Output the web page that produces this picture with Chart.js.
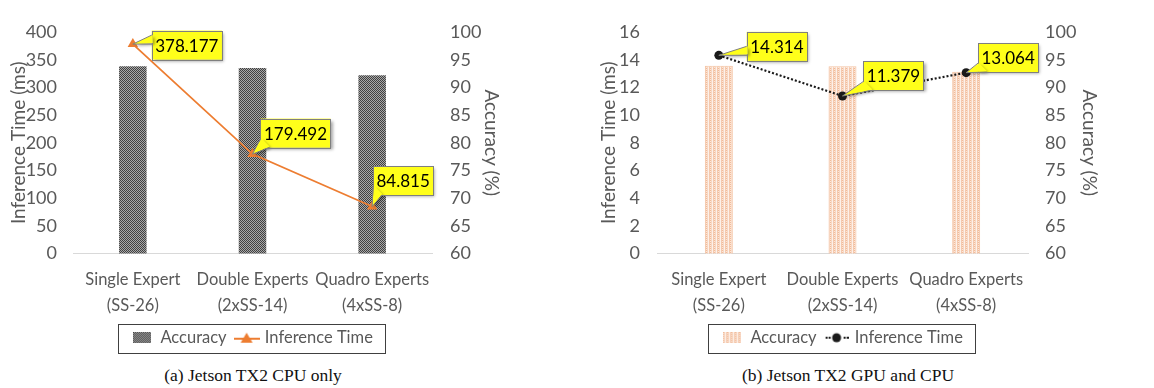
<!DOCTYPE html>
<html>
<head>
<meta charset="utf-8">
<script src="https://cdn.jsdelivr.net/npm/chart.js@4.4.1/dist/chart.umd.min.js"></script>
<style>
  body { margin: 0; background: #fff; width: 1154px; height: 388px; position: relative; overflow: hidden; }
  canvas { position: absolute; top: 0; }
  .cap { position: absolute; top: 365px; width: 400px; text-align: center;
         font: 17.5px "Liberation Serif", "Times New Roman", serif; color: #111; line-height: 20px; }
</style>
</head>
<body>
<canvas id="cpuChart" width="507" height="360" style="left:0"></canvas>
<canvas id="gpuChart" width="515" height="360" style="left:590px"></canvas>
<div class="cap" style="left:53px">(a) Jetson TX2 CPU only</div>
<div class="cap" style="left:648px">(b) Jetson TX2 GPU and CPU</div>

<script>
// data
const categories = [['Single Expert', '(SS-26)'], ['Double Experts', '(2xSS-14)'], ['Quadro Experts', '(4xSS-8)']];
const cpuAccuracy = [93.8, 93.5, 92.2];
const cpuTime = [378.177, 179.492, 84.815];
const gpuAccuracy = [93.9, 93.8, 92.8];
const gpuTime = [14.314, 11.379, 13.064];
const cpuTimeAxis = [0, 400, 50];   // min, max, step
const gpuTimeAxis = [0, 16, 2];
const accuracyAxis = [60, 100, 5];

const GREY = '#595959';
Chart.defaults.font.family = 'Lato';
Chart.defaults.color = GREY;

function makeCanvas(w, h, draw) {
    const c = document.createElement('canvas');
    c.width = w; c.height = h;
    draw(c.getContext('2d'), w, h);
    return c;
}

// bar fill textures
const darkTile = makeCanvas(2, 2, (g) => {
    g.fillStyle = '#a8a8a8'; g.fillRect(0, 0, 2, 2);
    g.fillStyle = '#404040'; g.fillRect(0, 0, 1, 1); g.fillRect(1, 1, 1, 1);
});
const peachTile = makeCanvas(4, 2, (g) => {
    const cols = ['#f1bb98', '#f8d7c3', '#fdf1e9', '#f5c9ae'];
    cols.forEach((c, i) => { g.fillStyle = c; g.fillRect(i, 0, 1, 2); });
    g.fillStyle = '#fbe6d9'; g.fillRect(0, 1, 1, 1);
});
const tmp = document.createElement('canvas').getContext('2d');
const darkFill = tmp.createPattern(darkTile, 'repeat');
const peachFill = tmp.createPattern(peachTile, 'repeat');

// legend icons
const iconDark = makeCanvas(18, 11, (g, w, h) => { g.fillStyle = g.createPattern(darkTile, 'repeat'); g.fillRect(0, 0, w, h); });
const iconPeach = makeCanvas(18, 11, (g, w, h) => { g.fillStyle = g.createPattern(peachTile, 'repeat'); g.fillRect(0, 0, w, h); });
const iconTriangle = makeCanvas(26, 12, (g) => {
    g.strokeStyle = '#ed7d31'; g.lineWidth = 2;
    g.beginPath(); g.moveTo(0, 7); g.lineTo(26, 7); g.stroke();
    g.fillStyle = '#ed7d31';
    g.beginPath(); g.moveTo(13, 1); g.lineTo(19, 11); g.lineTo(7, 11); g.closePath(); g.fill();
});
const iconDot = makeCanvas(24, 12, (g) => {
    g.fillStyle = '#1a1a1a';
    [1, 4, 19, 22].forEach(x => g.fillRect(x, 5, 2, 2));
    g.beginPath(); g.arc(12, 6, 4.5, 0, Math.PI * 2); g.fill();
});

// yellow callout boxes next to the line points
const calloutPlugin = {
    id: 'callouts',
    afterDatasetsDraw(chart, args, opts) {
        const ctx = chart.ctx;
        const ds = chart.data.datasets[opts.dataset];
        const meta = chart.getDatasetMeta(opts.dataset);
        ctx.save();
        ctx.font = '17px Lato';
        meta.data.forEach((pt, i) => {
            const text = String(ds.data[i]);
            const w = ctx.measureText(text).width + 7, h = 29;
            const cx = pt.x + opts.offsets[i][0], cy = pt.y + opts.offsets[i][1];
            const l = cx - w / 2, t = cy - h / 2, r = l + w, b = t + h;
            // wedge base points
            let a, c;
            if (pt.y > b) { a = [l + 1, b - 9]; c = [l + 9, b - 1]; }
            else { const y0 = Math.max(t + 2, pt.y - 9); a = [l + 1, y0]; c = [l + 1, y0 + 8]; }
            ctx.shadowColor = 'rgba(0,0,0,0.35)';
            ctx.shadowOffsetX = 2; ctx.shadowOffsetY = 2; ctx.shadowBlur = 3;
            ctx.fillStyle = '#ffff1a';
            ctx.strokeStyle = '#7f7f7f'; ctx.lineWidth = 1;
            ctx.fillRect(l, t, w, h);
            ctx.beginPath(); ctx.moveTo(a[0], a[1]); ctx.lineTo(pt.x, pt.y); ctx.lineTo(c[0], c[1]); ctx.closePath(); ctx.fill();
            ctx.shadowColor = 'transparent';
            ctx.strokeRect(Math.round(l) + 0.5, Math.round(t) + 0.5, Math.round(w), h);
            ctx.beginPath(); ctx.moveTo(a[0], a[1]); ctx.lineTo(pt.x, pt.y); ctx.lineTo(c[0], c[1]); ctx.closePath(); ctx.fill();
            ctx.beginPath(); ctx.moveTo(a[0] - 1, a[1]); ctx.lineTo(pt.x, pt.y); ctx.lineTo(c[0], c[1] + 1); ctx.stroke();
            ctx.fillStyle = '#000'; ctx.textAlign = 'center'; ctx.textBaseline = 'middle';
            ctx.fillText(text, cx, cy + 1);
        });
        ctx.restore();
    }
};

// frame round the legend
const legendFrame = {
    id: 'legendFrame',
    afterDraw(chart) {
        const boxes = chart.legend.legendHitBoxes;
        if (!boxes || !boxes.length) return;
        const l = Math.min(...boxes.map(b => b.left)) - 14;
        const r = Math.max(...boxes.map(b => b.left + b.width)) + 12;
        const t = Math.min(...boxes.map(b => b.top)) - 6;
        const bt = Math.max(...boxes.map(b => b.top + b.height)) + 6;
        const ctx = chart.ctx;
        ctx.save();
        ctx.strokeStyle = '#404040'; ctx.lineWidth = 1;
        ctx.strokeRect(Math.round(l) + 0.5, Math.round(t) + 0.5, Math.round(r - l), Math.round(bt - t));
        ctx.restore();
    }
};

function buildChart(id, accuracy, time, timeAxis, style) {
    return new Chart(document.getElementById(id), {
        type: 'bar',
        data: {
            labels: categories,
            datasets: [{
                label: 'Accuracy',
                data: accuracy,
                yAxisID: 'y1',
                order: 2,
                backgroundColor: style.barFill,
                borderColor: style.barBorder,
                borderWidth: style.barBorder ? 1 : 0,
                barPercentage: style.barPct,
                categoryPercentage: 1
            }, {
                type: 'line',
                label: 'Inference Time',
                data: time,
                yAxisID: 'y',
                order: 1,
                borderColor: style.lineColor,
                borderWidth: style.lineWidth,
                borderDash: style.dash,
                backgroundColor: style.lineColor,
                pointStyle: style.point,
                pointRadius: style.pointRadius,
                pointBorderWidth: 0,
                tension: 0
            }]
        },
        options: {
            responsive: false,
            animation: false,
            layout: { padding: { top: 32, bottom: 4, left: 0, right: 0 } },
            plugins: {
                tooltip: { enabled: false },
                legend: {
                    position: 'bottom',
                    fullSize: false,
                    labels: {
                        usePointStyle: true,
                        pointStyleWidth: 20,
                        padding: 10,
                        font: { size: 16.5 },
                        color: GREY,
                        generateLabels: () => [
                            { text: 'Accuracy', pointStyle: style.icons[0], fontColor: GREY, datasetIndex: 0, lineWidth: 0, hidden: false },
                            { text: 'Inference Time', pointStyle: style.icons[1], fontColor: GREY, datasetIndex: 1, lineWidth: 0, hidden: false }
                        ]
                    }
                },
                callouts: { dataset: 1, offsets: style.offsets }
            },
            scales: {
                x: {
                    grid: { display: false, drawTicks: false },
                    border: { display: true, color: '#d9d9d9' },
                    ticks: { color: GREY, font: { size: 16.5, lineHeight: 1.6 }, padding: 13, maxRotation: 0, autoSkip: false },
                    afterFit: (s) => { s.height = 66; }
                },
                y: {
                    position: 'left',
                    min: timeAxis[0], max: timeAxis[1],
                    grid: { display: false, drawTicks: false },
                    border: { display: false },
                    ticks: { stepSize: timeAxis[2], color: GREY, font: { size: 18 }, padding: style.leftPad },
                    title: { display: true, text: 'Inference Time (ms)', color: GREY, font: { size: 19 }, padding: { top: 7, bottom: 0 } },
                    afterFit: (s) => { s.width = style.leftW; }
                },
                y1: {
                    position: 'right',
                    min: accuracyAxis[0], max: accuracyAxis[1],
                    grid: { display: false, drawTicks: false },
                    border: { display: false },
                    ticks: { stepSize: accuracyAxis[2], color: GREY, font: { size: 18 }, padding: style.rightPad },
                    title: { display: true, text: 'Accuracy (%)', color: GREY, font: { size: 19 }, padding: { top: 4, bottom: 0 } },
                    afterFit: (s) => { s.width = style.rightW; }
                }
            }
        },
        plugins: [calloutPlugin, legendFrame]
    });
}

buildChart('cpuChart', cpuAccuracy, cpuTime, cpuTimeAxis, {
    barFill: darkFill, barBorder: null, barPct: 0.23,
    lineColor: '#ed7d31', lineWidth: 1.8, dash: [], point: 'triangle', pointRadius: 6,
    icons: [iconDark, iconTriangle],
    offsets: [[54, 1], [43, -21], [31, -26]],
    leftW: 73, rightW: 75, leftPad: 16, rightPad: 18
});

buildChart('gpuChart', gpuAccuracy, gpuTime, gpuTimeAxis, {
    barFill: peachFill, barBorder: '#f4c3a3', barPct: 0.226,
    lineColor: '#1a1a1a', lineWidth: 2.2, dash: [2, 2], point: 'circle', pointRadius: 4.5,
    icons: [iconPeach, iconDot],
    offsets: [[58, -9], [51, -20], [42, -15]],
    leftW: 67, rightW: 77, leftPad: 17, rightPad: 17
});
</script>
</body>
</html>
